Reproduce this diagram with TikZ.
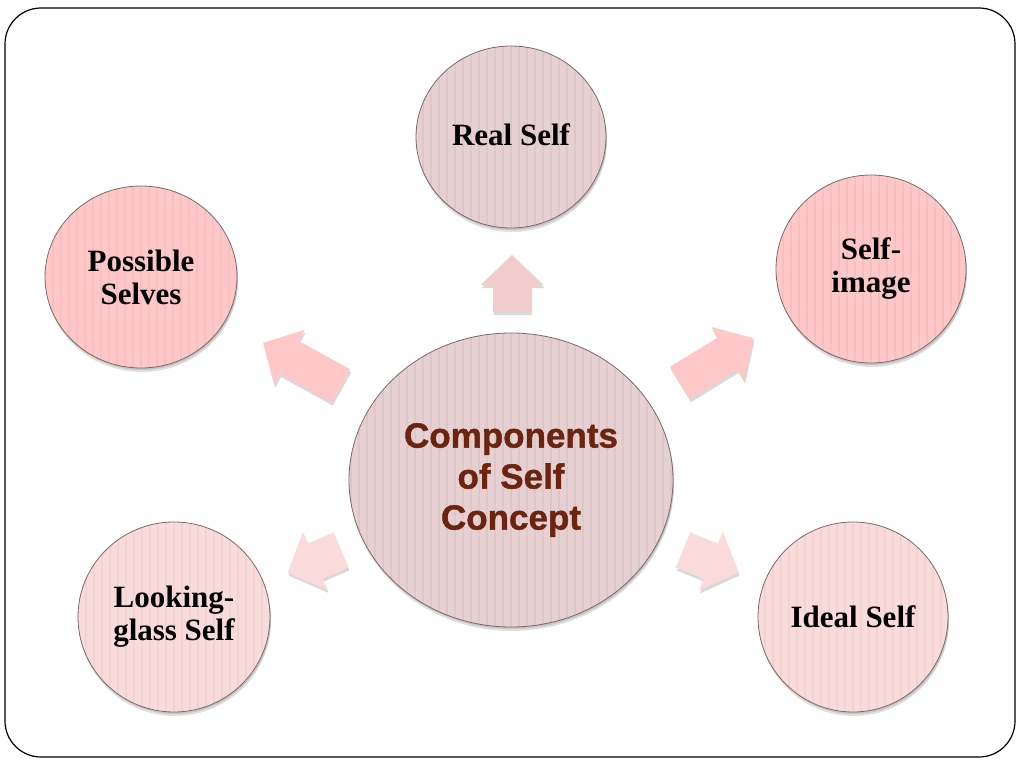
\documentclass[tikz,border=0pt]{standalone}
\usepackage{fontspec}
\setmainfont{Liberation Serif}
\newfontfamily\corefont{Liberation Sans}[BoldFeatures={FakeBold=1.2}]
\usetikzlibrary{shapes.geometric}
\definecolor{cmauve}{HTML}{E6D0D1}
\definecolor{cpink}{HTML}{FFC8C8}
\definecolor{clight}{HTML}{FADBDC}
\definecolor{carrowup}{HTML}{F2CBCB}
\definecolor{carrowlow}{HTML}{FADADA}
\definecolor{ctext}{HTML}{6B2410}
\definecolor{cedge}{HTML}{7A6A6A}
\begin{document}
\begin{tikzpicture}[x=1pt,y=-1pt,
  stripes/.style={path picture={\foreach \k in {-21,...,21}{\fill[black,opacity=0.035] ([xshift=\k*8pt-1pt]path picture bounding box.north) rectangle ([xshift=\k*8pt+1pt]path picture bounding box.south);}}},
  bubble/.style={ellipse, draw=cedge, line width=0.8pt, inner sep=0pt, align=center,
    font=\bfseries\fontsize{31}{33}\selectfont, text=black, stripes},
  bshadow/.style={fill=black, opacity=0.12},
  pics/barrow/.style={code={\path[pic actions] (0,-19) -- ({#1-30},-19) -- ({#1-30},-31.5) -- (#1,0) -- ({#1-30},31.5) -- ({#1-30},19) -- (0,19) -- cycle;}}
]
\useasboundingbox (0,0) rectangle (1021,768);
\draw[line width=1.2pt, rounded corners=36pt] (5,8) rectangle (1015,757);

% centres
\coordinate (pC) at (511,480);
\coordinate (pR) at (511,137);
\coordinate (pP) at (141,277);
\coordinate (pI) at (871,269);
\coordinate (pL) at (174,617);
\coordinate (pD) at (853,617);

% shadows of the circles
\foreach \s in {(1,2),(1,4)}{
  \fill[bshadow] ([shift={\s}]pC) ellipse [x radius=162, y radius=147];
  \fill[bshadow] ([shift={\s}]pR) ellipse [x radius=95, y radius=91];
  \fill[bshadow] ([shift={\s}]pP) ellipse [x radius=96, y radius=91];
  \fill[bshadow] ([shift={\s}]pI) ellipse [x radius=95, y radius=94];
  \fill[bshadow] ([shift={\s}]pL) ellipse [x radius=96, y radius=95];
  \fill[bshadow] ([shift={\s}]pD) ellipse [x radius=95, y radius=95];
}

% circles
\node[bubble, fill=cmauve, minimum width=324pt, minimum height=294pt,
  font=\corefont\bfseries\fontsize{35}{41}\selectfont, text=ctext] (core) at (pC) {Components\\of Self\\Concept};
\node[bubble, fill=cmauve, minimum width=190pt, minimum height=182pt] (real) at (pR) {\raisebox{5pt}{Real Self}};
\node[bubble, fill=cpink, minimum width=192pt, minimum height=182pt] (poss) at (pP) {Possible\\Selves};
\node[bubble, fill=cpink, minimum width=190pt, minimum height=188pt] (img) at (pI) {Self-\\image};
\node[bubble, fill=clight, minimum width=192pt, minimum height=190pt] (look) at (pL) {Looking-\\glass Self};
\node[bubble, fill=clight, minimum width=190pt, minimum height=190pt] (ideal) at (pD) {Ideal Self};

% arrow start points
\coordinate (aR) at (512,312);
\coordinate (aP) at (341,386);
\coordinate (aI) at (680,383);
\coordinate (aL) at (341,550);
\coordinate (aD) at (683,550);

% arrow shadows
\foreach \a/\r/\l in {aR/90/57, aP/151/89, aI/31.5/86, aL/203/58, aD/-22/60}{
  \pic[fill=black, opacity=0.15, shift={(1,3)}, rotate=\r] at (\a) {barrow=\l};
}
% arrows
\pic[fill=carrowup, rotate=90] at (aR) {barrow=57};
\pic[fill=cpink, rotate=151] at (aP) {barrow=89};
\pic[fill=cpink, rotate=31.5] at (aI) {barrow=86};
\pic[fill=carrowlow, rotate=203] at (aL) {barrow=58};
\pic[fill=carrowlow, rotate=-22] at (aD) {barrow=60};
\end{tikzpicture}
\end{document}
